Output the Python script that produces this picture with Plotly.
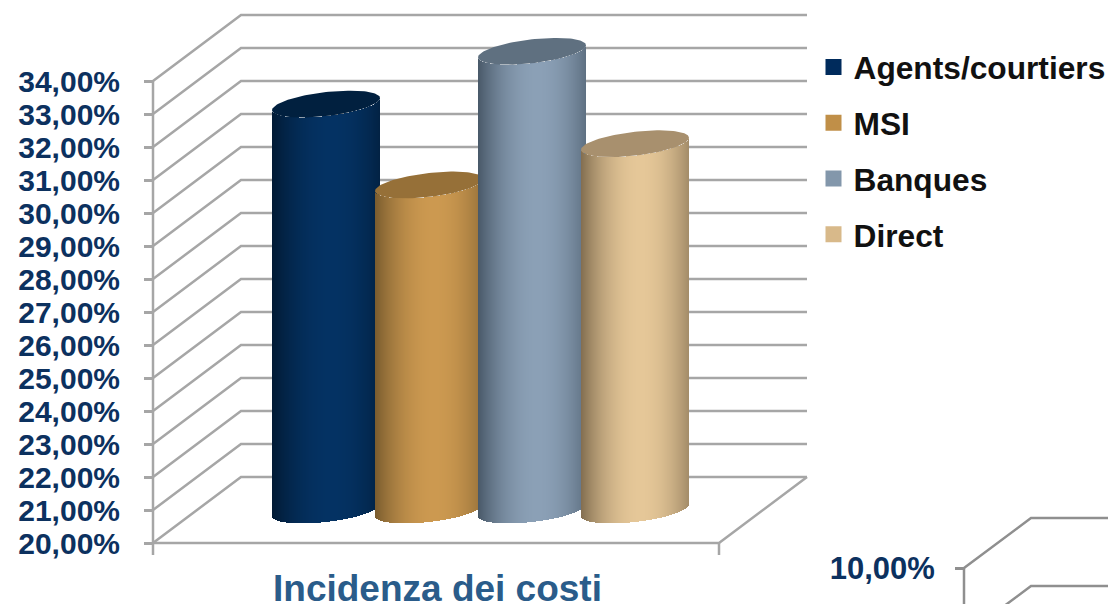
import numpy as np
import plotly.graph_objects as go

# Chart data
category = "Incidenza dei costi"
series_names = ["Agents/courtiers", "MSI", "Banques", "Direct"]
series_values = [32.3, 29.85, 33.9, 31.1]
axis_ticks = list(range(20, 35))
next_chart_ticks = [10, 9]

# Colours: legend swatch, cylinder edge, cylinder highlight, top cap
swatch_colors = ["#002b5c", "#c08f48", "#8397ab", "#d8b98a"]
edge_colors = [(1, 26, 52), (122, 92, 46), (72, 88, 104), (130, 110, 80)]
peak_colors = [(4, 50, 99), (204, 153, 80), (139, 160, 182), (229, 199, 152)]
cap_colors = ["#01203f", "#967038", "#5f7080", "#a8906e"]
GRID = "#a6a6a6"
NAVY = "#0c315f"

# Page-sized axes: x in chart units, one y unit per percentage point
WIDTH, HEIGHT = 1108, 604
PX = 33.0                      # pixels per percentage point
Y_RANGE = [20 - 61 / PX, 34 + 81 / PX]
X0, X1 = 153, 719              # front edge of the floor
DX, DY = 88, 66 / PX           # depth of the chart box
BAR_CENTERS = [326, 429, 532, 635]
BAR_HALF = 54
TILT, CAP = 6 / PX, 12 / PX    # shear and half-height of the elliptical ends
MID_DEPTH = DY / 2             # cylinders stand halfway back in the box

fig = go.Figure()

# Walls and floor
for v in axis_ticks:
    fig.add_trace(go.Scatter(
        x=[X0, X0 + DX, X1 + DX], y=[v, v + DY, v + DY], mode="lines",
        line=dict(color=GRID, width=2.5), showlegend=False, hoverinfo="skip", zorder=0))
fig.add_trace(go.Scatter(
    x=[X0, X1, X1 + DX], y=[20, 20, 20 + DY], mode="lines",
    line=dict(color=GRID, width=2.5), showlegend=False, hoverinfo="skip", zorder=0))
for x0, y_top in ((X0, 34), (X1, 20)):
    fig.add_trace(go.Scatter(
        x=[x0, x0], y=[y_top, 20 - 12 / PX], mode="lines",
        line=dict(color=GRID, width=2.5), showlegend=False, hoverinfo="skip", zorder=0))


def mix(a, b, t):
    return "rgb(%d,%d,%d)" % tuple(round(p + (q - p) * t) for p, q in zip(a, b))


# Cylinders as one-unit vertical strips with a lit centre, each later one in front
for i, (name, value) in enumerate(zip(series_names, series_values)):
    xc = BAR_CENTERS[i]
    offsets = np.arange(-BAR_HALF, BAR_HALF) + 0.5
    u = offsets / BAR_HALF
    arc = np.sqrt(1 - u ** 2)
    lower = 20 + MID_DEPTH + TILT * u - CAP * arc
    upper = value + MID_DEPTH + TILT * u - CAP * arc
    light = np.clip(1 - ((u - 0.1) / 1.1) ** 2, 0, 1)
    fig.add_trace(go.Bar(
        x=xc + offsets, y=upper - lower, base=lower, width=1.0,
        marker=dict(color=[mix(edge_colors[i], peak_colors[i], t) for t in light],
                    line=dict(width=0)),
        opacity=1, showlegend=False, hoverinfo="skip", zorder=i + 1))
    theta = np.linspace(0, 2 * np.pi, 121)
    fig.add_trace(go.Scatter(
        x=xc + BAR_HALF * np.cos(theta),
        y=value + MID_DEPTH + TILT * np.cos(theta) + CAP * np.sin(theta),
        mode="lines", fill="toself", fillcolor=cap_colors[i],
        line=dict(width=0, color=cap_colors[i]),
        showlegend=False, hoverinfo="skip", zorder=i + 1))

# Legend entries
for i, name in enumerate(series_names):
    fig.add_trace(go.Scatter(
        x=[None], y=[None], mode="markers", name=name, legendgroup=name,
        marker=dict(symbol="square", size=17, color=swatch_colors[i]),
        hoverinfo="skip"))

# Start of the neighbouring chart at the lower right
PX2 = 68.0
for v in next_chart_ticks:
    fig.add_trace(go.Scatter(
        x=[964, 1031, WIDTH + 5], y=[v, v + 50 / PX2, v + 50 / PX2], yaxis="y2",
        mode="lines", line=dict(color="#8f8f8f", width=2.5),
        showlegend=False, hoverinfo="skip"))
fig.add_trace(go.Scatter(
    x=[964, 964], y=[10, 9], yaxis="y2", mode="lines",
    line=dict(color="#8f8f8f", width=2.5), showlegend=False, hoverinfo="skip"))

tick_font = dict(family="Liberation Sans", size=30, color=NAVY, weight="bold")
fig.update_layout(
    width=WIDTH, height=HEIGHT, margin=dict(l=0, r=0, t=0, b=0, autoexpand=False),
    paper_bgcolor="white", plot_bgcolor="white", barmode="overlay", bargap=0,
    hovermode=False,
    xaxis=dict(range=[0, WIDTH], visible=False, fixedrange=True),
    yaxis=dict(
        range=Y_RANGE, anchor="free", position=X0 / WIDTH, side="left",
        tickmode="array", tickvals=axis_ticks,
        ticktext=["%d,00%%" % v for v in axis_ticks],
        ticks="outside", ticklen=9, tickwidth=2.5, tickcolor=GRID, tickfont=tick_font,
        ticklabelstandoff=18,
        showline=False, showgrid=False, zeroline=False, fixedrange=True),
    yaxis2=dict(
        range=[10 - 36 / PX2, 10 + 568 / PX2], overlaying="y", anchor="free",
        position=964 / WIDTH, side="left", tickmode="array", tickvals=[10],
        ticktext=["10,00%"], ticks="outside", ticklen=9, tickwidth=2.5,
        tickcolor="#8f8f8f", tickfont=dict(tick_font, size=31),
        ticklabelstandoff=14,
        showline=False, showgrid=False, zeroline=False, fixedrange=True),
    legend=dict(
        x=813.5 / WIDTH, y=1 - 40 / HEIGHT, xanchor="left", yanchor="top",
        bgcolor="rgba(0,0,0,0)", tracegroupgap=11.5, itemclick=False, itemdoubleclick=False,
        font=dict(family="Liberation Sans", size=31.7, color="#111111", weight="bold")),
    annotations=[dict(
        text=category, x=437.5 / WIDTH, y=1 - 588 / HEIGHT, xref="paper", yref="paper",
        showarrow=False, xanchor="center", yanchor="middle", height=30,
        font=dict(family="Liberation Sans", size=37, color="#2a5c8a", weight="bold"))],
)

fig.write_html("out.html")
